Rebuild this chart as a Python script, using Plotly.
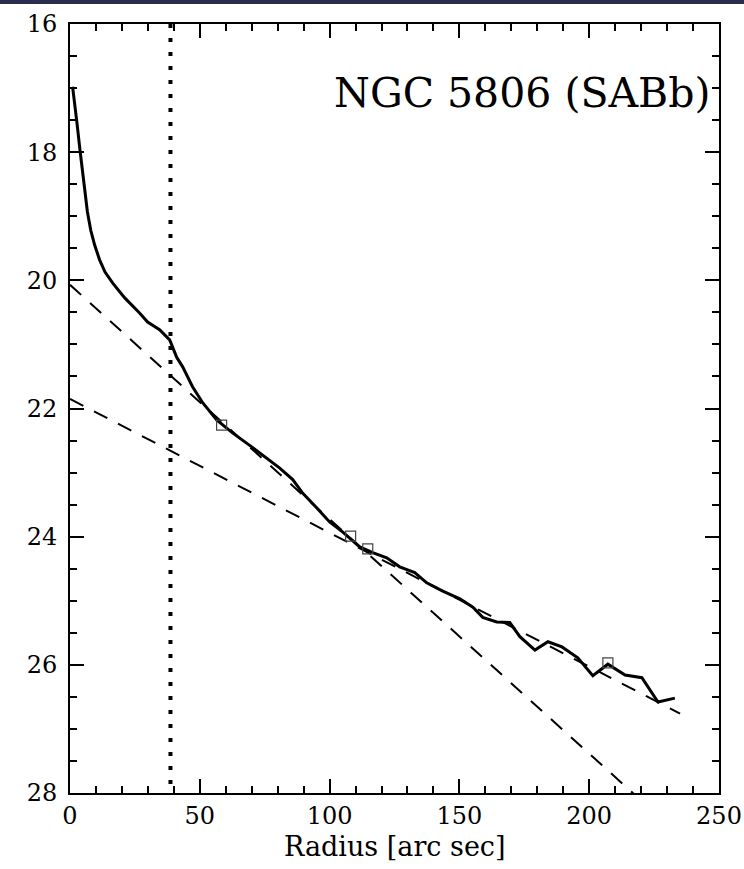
import plotly.graph_objects as go

# Surface-brightness profile (radius in arcsec, mag/arcsec^2)
profile_r = [1.0, 1.7, 2.7, 3.8, 4.8, 5.7, 6.7, 8.0, 9.5, 11.4, 13.5, 16.4, 21.0, 26.8,
             29.9, 34.5, 38.4, 41.1, 43.4, 47.2, 51.1, 56.5, 62.6, 70.4, 80.8, 85.8,
             89.6, 95.0, 100.0, 105.1, 111.6, 116.6, 122.0, 127.0, 132.8, 137.4, 143.6,
             150.2, 155.2, 159.0, 164.4, 169.4, 173.3, 179.1, 184.1, 189.5, 195.6,
             201.4, 207.2, 213.8, 220.3, 226.5, 233.0]
profile_mu = [16.98, 17.19, 17.55, 17.95, 18.30, 18.65, 18.93, 19.22, 19.45, 19.68,
              19.87, 20.04, 20.27, 20.51, 20.65, 20.77, 20.93, 21.20, 21.35, 21.66,
              21.91, 22.18, 22.38, 22.61, 22.93, 23.11, 23.32, 23.55, 23.77, 23.93,
              24.16, 24.25, 24.33, 24.47, 24.56, 24.72, 24.85, 24.97, 25.10, 25.26,
              25.33, 25.34, 25.56, 25.77, 25.64, 25.72, 25.89, 26.17, 25.99, 26.16,
              26.20, 26.58, 26.52]

# Break / fit-boundary markers
marker_r = [58.4, 108.1, 114.7, 207.2]
marker_mu = [22.26, 23.99, 24.19, 25.97]

# Exponential disk fits (straight lines in mag vs radius)
inner_r = [0.0, 222.0]
inner_mu = [20.07, 28.19]
outer_r = [0.0, 235.0]
outer_mu = [21.85, 26.76]

# Bar / bulge radius
bar_r = [38.7, 38.7]
bar_mu = [16.0, 28.0]

x_ticks = [0, 50, 100, 150, 200, 250]
y_ticks = [16, 18, 20, 22, 24, 26, 28]

FONT = "DejaVu Serif"

fig = go.Figure()
fig.add_trace(go.Scatter(x=bar_r, y=bar_mu, mode="lines",
                         line=dict(color="black", width=4, dash="4px,10px"),
                         hoverinfo="skip"))
fig.add_trace(go.Scatter(x=inner_r, y=inner_mu, mode="lines",
                         line=dict(color="black", width=2, dash="15px,12px")))
fig.add_trace(go.Scatter(x=outer_r, y=outer_mu, mode="lines",
                         line=dict(color="black", width=2, dash="15px,12px")))
fig.add_trace(go.Scatter(x=profile_r, y=profile_mu, mode="lines",
                         line=dict(color="black", width=3)))
fig.add_trace(go.Scatter(x=marker_r, y=marker_mu, mode="markers",
                         marker=dict(symbol="square-open", size=10,
                                     color="#444444", line=dict(width=1.2))))

axis_common = dict(
    showline=True, linecolor="black", linewidth=2, mirror="allticks",
    ticks="inside", ticklen=14, tickwidth=1.5, tickcolor="black",
    showgrid=False, zeroline=False, automargin=False,
    tickfont=dict(family=FONT, size=24, color="black"),
)

fig.update_xaxes(range=[0, 250], tickvals=x_ticks, ticktext=[str(v) for v in x_ticks],
                 minor=dict(dtick=10, tick0=0, ticks="inside", ticklen=7,
                            tickwidth=1.5, tickcolor="black", showgrid=False),
                 ticklabelstandoff=0,
                 **axis_common)
fig.update_yaxes(range=[28, 16], tickvals=y_ticks, ticktext=[str(v) for v in y_ticks],
                 minor=dict(dtick=0.5, tick0=16, ticks="inside", ticklen=7,
                            tickwidth=1.5, tickcolor="black", showgrid=False),
                 ticklabelstandoff=6,
                 **axis_common)

# x-axis title
fig.add_annotation(text="Radius [arc sec]", xref="paper", yref="paper",
                   x=0.5, y=-0.069, xanchor="center", yanchor="middle",
                   showarrow=False,
                   font=dict(family=FONT, size=27, color="black"))

fig.add_annotation(text="NGC 5806 (SABb)", xref="paper", yref="paper",
                   x=0.989, y=0.910, xanchor="right", yanchor="middle",
                   showarrow=False,
                   font=dict(family=FONT, size=41, color="black"))

# dark strip at the very top of the image
fig.add_shape(type="rect", xref="paper", yref="paper",
              x0=-0.2, x1=1.2, y0=1 + 20 / 769, y1=1 + 26 / 769,
              fillcolor="#2b2d4f", line=dict(width=0), layer="above")

fig.update_layout(
    width=744, height=869,
    margin=dict(l=70, r=25, t=24, b=76),
    paper_bgcolor="white", plot_bgcolor="white",
    showlegend=False,
)

fig.write_html("out.html", config={"displayModeBar": False},
               post_script="document.body.style.margin='0px';document.body.style.overflow='hidden';")
